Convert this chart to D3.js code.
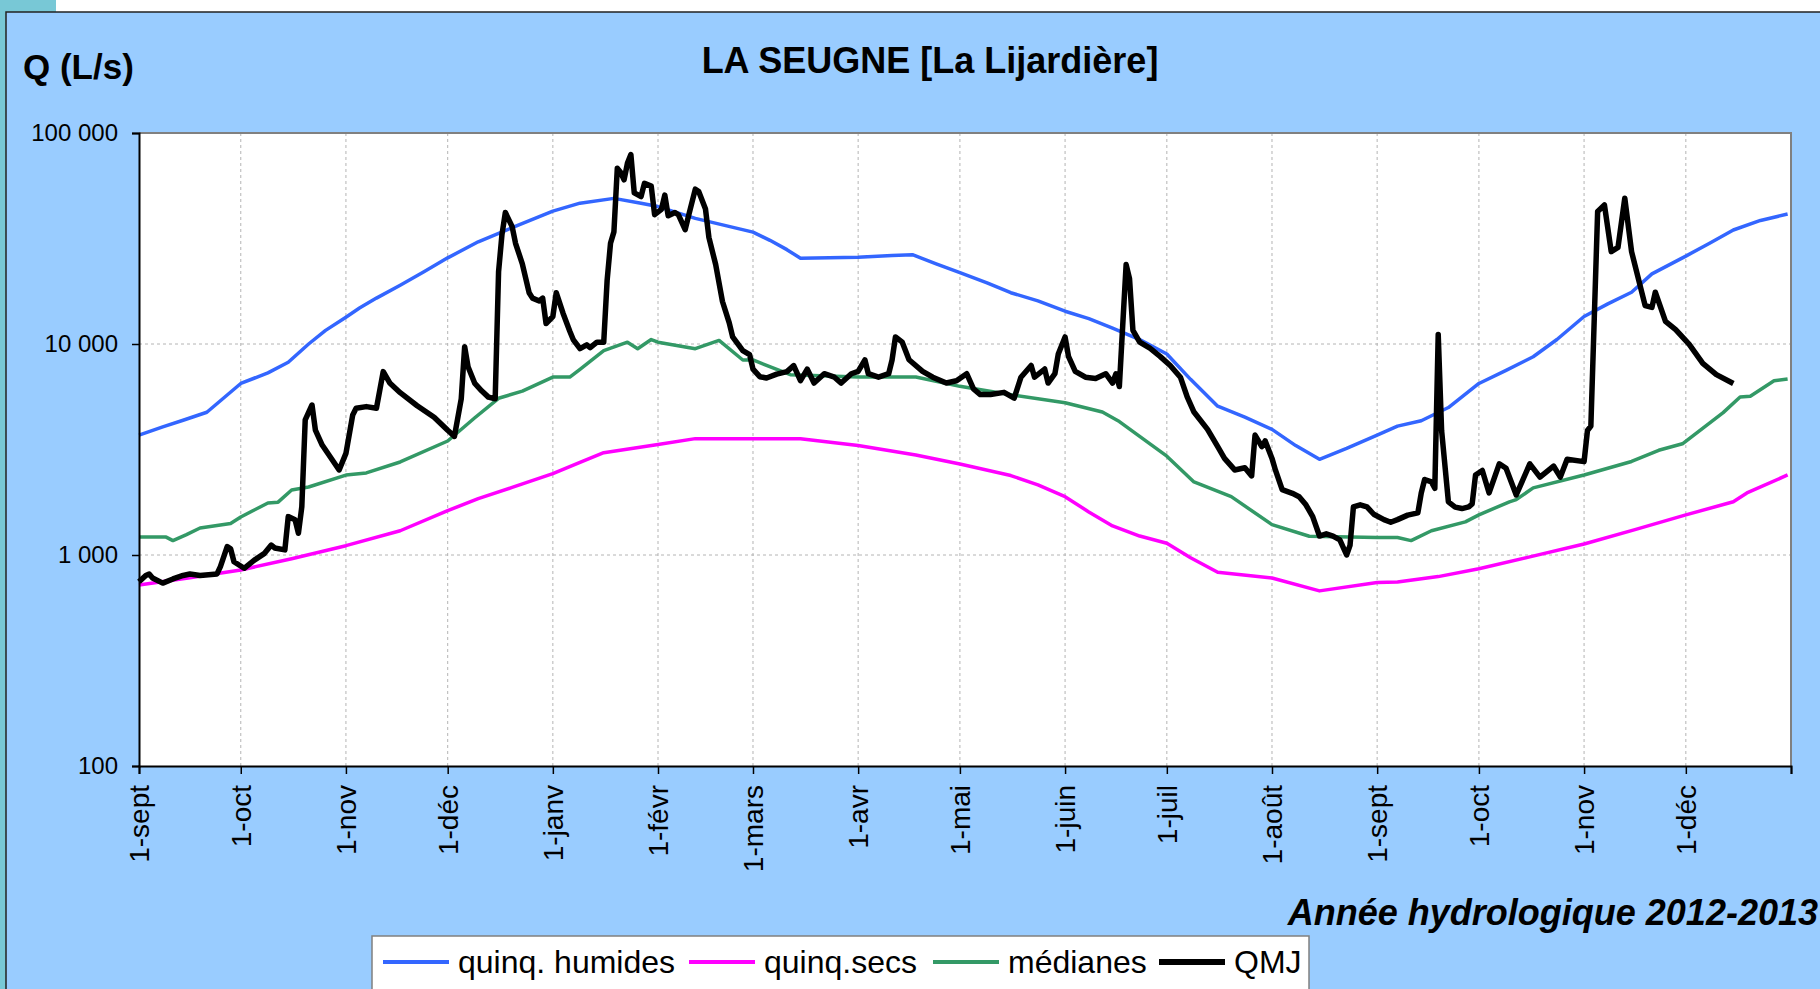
<!DOCTYPE html>
<html>
<head>
<meta charset="utf-8">
<script src="https://cdn.jsdelivr.net/npm/d3@7"></script>
<style>
    body { margin: 0; background: #ffffff; overflow: hidden; }
    svg { display: block; font-family: Arial, "Liberation Sans", sans-serif; }
</style>
</head>
<body>
<div id="chart"></div>
<script>
// débits en L/s, chaque point = [jours depuis le 1-sept-2012, valeur]
const moisLabels = ["sept", "oct", "nov", "déc", "janv", "févr", "mars", "avr", "mai", "juin", "juil", "août"];
const yTicks = [100, 1000, 10000, 100000];

const humides = [
    [0, 3700], [7, 4050], [13, 4350], [20, 4750], [30, 6500], [38, 7300], [44, 8200], [50, 10000],
    [55, 11600], [61, 13400], [65, 14800], [70, 16500], [77, 19000], [84, 22000], [91, 25600],
    [100, 30500], [110, 35600], [122, 42600], [130, 46500], [140, 49000], [148, 46500], [153, 44800],
    [164, 39400], [181, 33900], [186, 31000], [191, 28000], [195, 25500], [212, 25800], [222, 26300],
    [228, 26500], [235, 24000], [242, 21800], [250, 19500], [257, 17500], [265, 16000], [273, 14300],
    [280, 13200], [287, 11900], [295, 10500], [303, 8970], [310, 6800], [318, 5070], [326, 4500],
    [334, 3940], [341, 3300], [348, 2840], [356, 3200], [365, 3700], [371, 4080], [378, 4330],
    [386, 5000], [395, 6500], [403, 7500], [411, 8700], [418, 10500], [426, 13500], [433, 15500],
    [440, 17600], [446, 21500], [456, 26100], [463, 30000], [470, 34700], [478, 38500], [486, 41300]
];

const secs = [
    [0, 721], [15, 780], [30, 849], [45, 960], [61, 1107], [77, 1303], [91, 1622], [100, 1850],
    [110, 2090], [122, 2432], [130, 2750], [137, 3055], [153, 3340], [164, 3560], [181, 3560],
    [195, 3560], [212, 3300], [229, 2980], [242, 2700], [257, 2380], [265, 2150], [273, 1890],
    [280, 1600], [287, 1374], [295, 1230], [303, 1137], [310, 970], [318, 828], [334, 778],
    [348, 676], [365, 740], [371, 745], [383, 790], [395, 861], [410, 980], [426, 1127], [441, 1320],
    [456, 1549], [470, 1787], [474, 1968], [486, 2395]
];

const medianes = [
    [0, 1216], [8, 1216], [10, 1170], [14, 1250], [18, 1343], [27, 1410], [30, 1514], [38, 1765],
    [41, 1780], [45, 2033], [50, 2100], [61, 2393], [67, 2450], [77, 2760], [91, 3470], [99, 4470],
    [106, 5530], [113, 5980], [122, 6970], [127, 6970], [130, 7590], [137, 9300], [144, 10200],
    [147, 9500], [151, 10500], [153, 10200], [164, 9500], [171, 10400], [178, 8400], [181, 8400],
    [192, 7150], [212, 6970], [229, 6970], [242, 6300], [257, 5750], [273, 5270], [284, 4760],
    [289, 4290], [303, 2940], [311, 2220], [322, 1890], [334, 1393], [345, 1227], [365, 1210],
    [371, 1210], [375, 1170], [381, 1303], [391, 1435], [395, 1550], [404, 1787], [406, 1830],
    [411, 2080], [426, 2395], [440, 2775], [448, 3135], [455, 3365], [467, 4730], [472, 5610],
    [475, 5660], [482, 6690], [486, 6830]
];

const qmj = [
    [0, 747], [2, 800], [3, 813], [4, 778], [7, 736], [10, 770], [13, 800], [15, 813], [18, 800],
    [23, 813], [24, 881], [26, 1097], [27, 1070], [28, 929], [31, 865], [34, 946], [37, 1018],
    [39, 1114], [40, 1080], [43, 1057], [44, 1520], [46, 1470], [47, 1268], [48, 1694], [49, 4370],
    [51, 5140], [52, 3910], [54, 3320], [57, 2820], [59, 2530], [61, 3030], [63, 4610], [64, 4960],
    [67, 5050], [70, 4960], [72, 7400], [74, 6510], [77, 5880], [82, 5100], [87, 4500], [91, 3900],
    [93, 3650], [95, 5500], [96, 9700], [97, 7800], [99, 6500], [101, 6000], [103, 5600], [105, 5500],
    [106, 22000], [107, 33000], [108, 42000], [110, 36000], [111, 30000], [113, 24000], [115, 17500],
    [116, 16500], [118, 16000], [119, 16500], [120, 12500], [122, 13500], [123, 17500], [125, 14000],
    [127, 11500], [128, 10500], [130, 9500], [132, 9900], [133, 9600], [135, 10200], [137, 10200],
    [138, 20000], [139, 30000], [140, 34000], [141, 68000], [142, 65000], [143, 60000], [144, 72000],
    [145, 79000], [146, 52000], [148, 50000], [149, 57700], [151, 56000], [152, 41000], [154, 43500],
    [155, 50800], [156, 40500], [158, 42000], [159, 41000], [161, 34800], [162, 40500], [164, 54200],
    [165, 52800], [167, 43600], [168, 32000], [170, 23800], [172, 15900], [174, 12600], [175, 10800],
    [178, 9300], [180, 8900], [181, 7600], [183, 7000], [185, 6900], [188, 7200], [191, 7400],
    [193, 7900], [195, 6700], [197, 7600], [199, 6530], [202, 7230], [205, 6960], [207, 6530],
    [210, 7230], [212, 7420], [214, 8400], [215, 7230], [218, 6960], [221, 7230], [222, 8400],
    [223, 10800], [225, 10200], [227, 8420], [231, 7420], [234, 6960], [238, 6530], [241, 6700],
    [244, 7230], [246, 6130], [248, 5760], [251, 5760], [255, 5900], [258, 5540], [260, 6960],
    [263, 7910], [264, 6960], [267, 7610], [268, 6530], [270, 7230], [271, 8970], [273, 10800],
    [274, 8740], [276, 7420], [279, 6960], [282, 6870], [285, 7230], [287, 6530], [288, 7230],
    [289, 6290], [290, 12300], [291, 23800], [292, 20400], [293, 11600], [295, 10200], [298, 9550],
    [301, 8740], [304, 7910], [307, 6960], [309, 5610], [311, 4760], [315, 3940], [318, 3260],
    [320, 2870], [323, 2530], [326, 2590], [328, 2370], [329, 3700], [331, 3260], [332, 3470],
    [334, 2870], [335, 2530], [337, 2040], [340, 1960], [342, 1890], [344, 1730], [346, 1520],
    [348, 1230], [350, 1260], [352, 1230], [354, 1180], [356, 1000], [357, 1110], [358, 1690],
    [360, 1730], [362, 1690], [364, 1560], [367, 1470], [369, 1430], [371, 1471], [374, 1545],
    [377, 1583], [378, 1968], [379, 2280], [381, 2220], [382, 2070], [383, 11100], [384, 3890],
    [386, 1786], [388, 1687], [390, 1660], [392, 1690], [393, 1745], [394, 2393], [396, 2514],
    [398, 1968], [401, 2705], [403, 2575], [406, 1925], [410, 2705], [413, 2340], [417, 2640],
    [419, 2340], [421, 2840], [426, 2770], [427, 3890], [428, 4080], [430, 42500], [432, 45600],
    [434, 27400], [436, 28700], [438, 49100], [440, 27400], [444, 15200], [446, 14900], [447, 17600],
    [450, 12800], [453, 11700], [457, 9950], [461, 8090], [465, 7160], [470, 6500]
];

const series = [
    { name: "quinq. humides", data: humides, color: "#3366ff", width: 3.5 },
    { name: "quinq.secs", data: secs, color: "#ff00ff", width: 3.5 },
    { name: "médianes", data: medianes, color: "#339966", width: 3.5 },
    { name: "QMJ", data: qmj, color: "#000000", width: 5.5 }
];

const W = 1820, H = 989;
const plot = { left: 139, top: 133, right: 1791, bottom: 766 };
const debut = new Date(Date.UTC(2012, 8, 1));
const fin = new Date(Date.UTC(2014, 0, 1));

const svg = d3.select("#chart").append("svg")
    .attr("width", W)
    .attr("height", H);

// cadre de fond
svg.append("rect").attr("x", 0).attr("y", 0).attr("width", 6).attr("height", H).attr("fill", "#78c8d6");
svg.append("rect").attr("x", 0).attr("y", 0).attr("width", 56).attr("height", 12).attr("fill", "#78c8d6");
svg.append("rect")
    .attr("x", 6).attr("y", 12)
    .attr("width", W + 10).attr("height", H)
    .attr("fill", "#99ccff")
    .attr("stroke", "#222")
    .attr("stroke-width", 1.5);

// zone de tracé
svg.append("rect")
    .attr("x", plot.left).attr("y", plot.top)
    .attr("width", plot.right - plot.left).attr("height", plot.bottom - plot.top)
    .attr("fill", "#ffffff");

const x = d3.scaleUtc().domain([debut, fin]).range([plot.left, plot.right]);
const y = d3.scaleLog().domain([100, 100000]).range([plot.bottom, plot.top]);

const jour = d => d3.utcDay.offset(debut, d);
const fr = d3.formatLocale({ decimal: ",", thousands: " ", grouping: [3], currency: ["", " €"] });
const fmt = fr.format(",");

const mois = d3.utcMonth.range(debut, fin);

// grille pointillée
svg.append("g")
    .selectAll("line")
    .data(mois.slice(1))
    .enter()
    .append("line")
    .attr("x1", d => x(d)).attr("x2", d => x(d))
    .attr("y1", plot.top).attr("y2", plot.bottom)
    .attr("stroke", "#b4b4b4")
    .attr("stroke-dasharray", "3,3");

svg.append("g")
    .selectAll("line")
    .data(yTicks.slice(1, -1))
    .enter()
    .append("line")
    .attr("x1", plot.left).attr("x2", plot.right)
    .attr("y1", d => y(d)).attr("y2", d => y(d))
    .attr("stroke", "#b4b4b4")
    .attr("stroke-dasharray", "3,3");

// bordure haute et droite
svg.append("path")
    .attr("d", `M${plot.left},${plot.top}H${plot.right}V${plot.bottom}`)
    .attr("fill", "none")
    .attr("stroke", "#808080")
    .attr("stroke-width", 2);

// courbes
const line = d3.line()
    .x(d => x(jour(d[0])))
    .y(d => y(d[1]));

svg.append("g")
    .selectAll("path")
    .data(series)
    .enter()
    .append("path")
    .attr("d", d => line(d.data))
    .attr("fill", "none")
    .attr("stroke", d => d.color)
    .attr("stroke-width", d => d.width)
    .attr("stroke-linejoin", "round");

// axes
const xAxis = d3.axisBottom(x)
    .tickValues(mois.concat([fin]))
    .tickSize(8)
    .tickPadding(11)
    .tickFormat(d => d >= fin ? "" : "1-" + moisLabels[(d.getUTCMonth() + 4) % 12]);

const gx = svg.append("g")
    .attr("transform", `translate(0,${plot.bottom})`)
    .call(xAxis);

gx.selectAll("text")
    .attr("transform", "rotate(-90)")
    .attr("text-anchor", "end")
    .attr("x", -19)
    .attr("y", 0)
    .attr("dy", "0.35em")
    .attr("fill", "#000")
    .style("font-size", "28px")
    .style("font-family", "Arial, 'Liberation Sans', sans-serif");

const yAxis = d3.axisLeft(y)
    .tickValues(yTicks)
    .tickSize(7)
    .tickPadding(14)
    .tickFormat(fmt);

const gy = svg.append("g")
    .attr("transform", `translate(${plot.left},0)`)
    .call(yAxis);

gy.selectAll("text")
    .attr("fill", "#000")
    .style("font-size", "24px")
    .style("font-family", "Arial, 'Liberation Sans', sans-serif");

[gx, gy].forEach(g => {
    g.select(".domain").attr("stroke", "#000").attr("stroke-width", 2);
    g.selectAll(".tick line").attr("stroke", "#000").attr("stroke-width", 1.5);
});

// titres
svg.append("text")
    .attr("x", 930).attr("y", 73)
    .attr("text-anchor", "middle")
    .style("font-size", "36px")
    .style("font-weight", "bold")
    .text("LA SEUGNE [La Lijardière]");

svg.append("text")
    .attr("x", 23).attr("y", 79)
    .style("font-size", "35px")
    .style("font-weight", "bold")
    .text("Q (L/s)");

svg.append("text")
    .attr("x", 1818).attr("y", 925)
    .attr("text-anchor", "end")
    .style("font-size", "36px")
    .style("font-weight", "bold")
    .style("font-style", "italic")
    .text("Année hydrologique 2012-2013");

// légende
const legendPos = [383, 689, 933, 1159];

const legend = svg.append("g");
legend.append("rect")
    .attr("x", 372).attr("y", 936)
    .attr("width", 937).attr("height", 70)
    .attr("fill", "#ffffff")
    .attr("stroke", "#808080")
    .attr("stroke-width", 1.5);

const item = legend.selectAll("g.item")
    .data(series)
    .enter()
    .append("g")
    .attr("class", "item")
    .attr("transform", (d, i) => `translate(${legendPos[i]},962)`);

item.append("line")
    .attr("x1", 0).attr("x2", 66)
    .attr("stroke", d => d.color)
    .attr("stroke-width", d => d.name === "QMJ" ? 6 : 4);

item.append("text")
    .attr("x", 75)
    .attr("dy", "0.35em")
    .style("font-size", "32px")
    .text(d => d.name);
</script>
</body>
</html>
